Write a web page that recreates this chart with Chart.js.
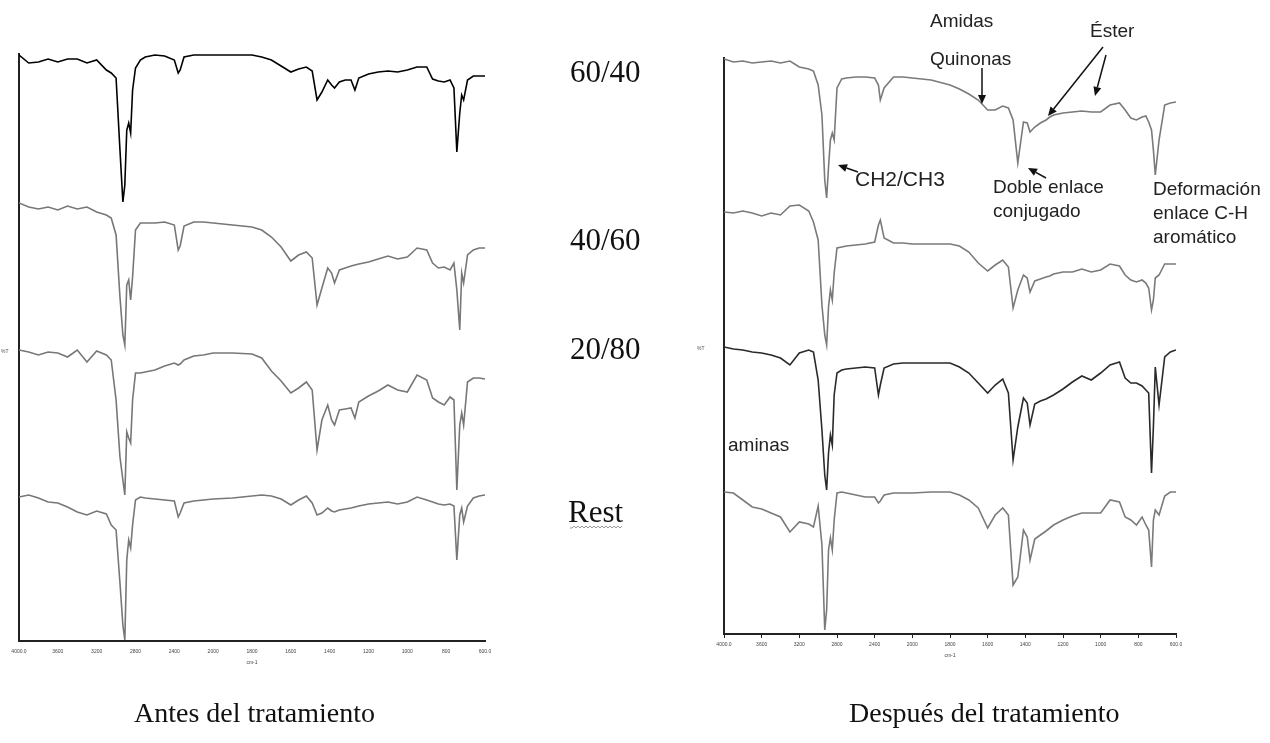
<!DOCTYPE html>
<html>
<head>
<meta charset="utf-8">
<script src="https://cdn.jsdelivr.net/npm/chart.js@4.4.0/dist/chart.umd.min.js"></script>
<style>
  body { margin: 0; background: #fff; width: 1270px; height: 743px; overflow: hidden; position: relative; }
  canvas { position: absolute; top: 0; }
  #antes { left: 0; }
  #despues { left: 690px; }
  #notes { position: absolute; left: 0; top: 0; }
</style>
</head>
<body>
<canvas id="antes" width="520" height="680"></canvas>
<canvas id="despues" width="580" height="680"></canvas>
<svg id="notes" width="1270" height="743">
  <g font-family="Liberation Serif" fill="#111">
    <text x="570" y="82" font-size="31">60/40</text>
    <text x="570" y="250" font-size="31">40/60</text>
    <text x="570" y="359" font-size="31">20/80</text>
    <text x="568" y="522" font-size="31">Rest</text>
    <text x="134" y="722" font-size="28">Antes del tratamiento</text>
    <text x="849" y="722" font-size="28">Después del tratamiento</text>
  </g>
  <g font-family="Liberation Sans" fill="#222" font-size="19">
    <text x="930" y="27">Amidas</text>
    <text x="930" y="65">Quinonas</text>
    <text x="1090" y="37">Éster</text>
    <text x="855" y="186" font-size="21">CH2/CH3</text>
    <text x="993" y="193">Doble enlace</text>
    <text x="993" y="217">conjugado</text>
    <text x="1153" y="195">Deformación</text>
    <text x="1153" y="219">enlace C-H</text>
    <text x="1153" y="243">aromático</text>
    <text x="728" y="451">aminas</text>
  </g>
  <g font-family="Liberation Sans" fill="#555" font-size="5">
    <text x="1" y="353">%T</text>
    <text x="697" y="350">%T</text>
  </g>
  <path id="wavy" fill="none" stroke="#999" stroke-width="1"></path>
  <g id="arrows" stroke="#111" fill="#111" stroke-width="1.5"></g>
</svg>
<script>
// IR spectra, transmittance stacked (arbitrary units)
const wavenumbers = [4000, 3900, 3800, 3700, 3600, 3500, 3400, 3300, 3200, 3100,
  3050, 3000, 2960, 2930, 2910, 2890, 2870, 2850, 2830, 2800,
  2750, 2700, 2600, 2500, 2400, 2360, 2340, 2300, 2200, 2100,
  2000, 1900, 1800, 1750, 1700, 1650, 1600, 1560, 1520, 1490,
  1465, 1440, 1410, 1390, 1375, 1350, 1320, 1290, 1270, 1250,
  1200, 1150, 1100, 1050, 1000, 950, 900, 870, 840, 810,
  780, 760, 745, 730, 720, 710, 690, 660, 630, 600];

const tickLabels = ['4000.0', '3600', '3200', '2800', '2400', '2000', '1800', '1600', '1400', '1200', '1000', '800', '600.0'];

// Antes del tratamiento
const antes6040 = [586, 578, 579, 582, 579, 582, 582, 578, 581, 571,
  568, 563, 491, 439, 456, 511, 518, 508, 551, 573,
  581, 584, 586, 585, 581, 568, 571, 584, 586, 586,
  586, 586, 586, 584, 581, 575, 569, 572, 574, 570,
  541, 549, 561, 556, 553, 559, 561, 561, 551, 563,
  567, 569, 570, 569, 571, 574, 574, 562, 560, 559,
  561, 553, 489, 528, 546, 541, 561, 565, 565, 565];
const antes4060 = [438, 434, 432, 434, 431, 435, 432, 434, 429, 426,
  423, 406, 344, 306, 296, 356, 361, 341, 364, 411,
  418, 418, 418, 419, 416, 391, 395, 415, 419, 419,
  418, 416, 414, 411, 404, 394, 380, 386, 389, 383,
  336, 353, 373, 368, 358, 371, 373, 375, 376, 377,
  379, 382, 385, 382, 384, 393, 391, 378, 373, 374,
  371, 378, 351, 311, 368, 358, 386, 391, 393, 393];
const antes2080 = [291, 289, 286, 289, 288, 284, 291, 279, 290, 286,
  281, 241, 184, 161, 146, 209, 203, 198, 241, 268,
  268, 269, 271, 275, 278, 276, 277, 281, 285, 286,
  288, 288, 287, 283, 270, 260, 248, 253, 259, 251,
  191, 221, 236, 221, 216, 231, 232, 233, 223, 239,
  245, 250, 256, 251, 249, 266, 261, 243, 239, 236,
  244, 241, 151, 216, 228, 216, 259, 263, 263, 262];
const antesRest = [144, 146, 143, 139, 138, 134, 129, 126, 130, 127,
  116, 111, 58, 16, 1, 81, 101, 93, 116, 141,
  144, 143, 142, 141, 140, 124, 128, 138, 140, 141,
  142, 143, 145, 146, 145, 142, 136, 141, 145, 138,
  126, 128, 133, 130, 129, 131, 132, 133, 134, 135,
  137, 138, 139, 137, 139, 144, 141, 139, 137, 136,
  137, 135, 81, 126, 133, 119, 135, 143, 145, 146];

// Después del tratamiento
const despues6040 = [575, 572, 573, 571, 572, 573, 571, 573, 567, 565,
  563, 549, 519, 454, 436, 467, 494, 501, 494, 546,
  555, 556, 557, 557, 556, 549, 534, 546, 557, 557,
  556, 554, 549, 545, 540, 534, 524, 524, 528, 526,
  514, 471, 512, 511, 502, 507, 511, 514, 517, 519,
  521, 522, 523, 522, 522, 529, 531, 524, 516, 514,
  517, 518, 512, 504, 484, 459, 494, 529, 531, 532];
const despues4060 = [422, 421, 423, 421, 418, 421, 419, 428, 429, 423,
  412, 394, 329, 299, 289, 327, 344, 334, 361, 386,
  387, 388, 389, 390, 392, 409, 414, 396, 391, 391,
  390, 390, 390, 388, 382, 371, 363, 369, 374, 367,
  326, 344, 359, 356, 342, 353, 355, 357, 358, 360,
  362, 362, 365, 362, 364, 370, 368, 359, 354, 352,
  354, 351, 346, 324, 334, 356, 359, 370, 370, 370];
const despues2080 = [287, 285, 284, 282, 281, 279, 276, 269, 281, 284,
  282, 254, 204, 159, 144, 181, 199, 189, 239, 261,
  264, 265, 266, 267, 266, 239, 249, 266, 270, 271,
  271, 271, 271, 267, 261, 251, 241, 249, 255, 241,
  174, 207, 236, 231, 209, 230, 233, 235, 237, 239,
  245, 252, 258, 254, 261, 269, 272, 256, 251, 251,
  248, 244, 241, 161, 207, 267, 229, 277, 282, 284];
const despuesRest = [142, 141, 134, 127, 125, 121, 117, 102, 112, 110,
  107, 128, 89, 4, 24, 84, 96, 84, 114, 141,
  142, 141, 139, 137, 137, 131, 133, 139, 141, 141,
  141, 142, 142, 139, 134, 126, 106, 119, 126, 119,
  49, 57, 104, 97, 74, 95, 99, 103, 106, 109,
  114, 118, 121, 121, 121, 134, 132, 117, 114, 109,
  117, 109, 104, 67, 114, 124, 119, 138, 142, 142];

// the instrument axis uses 400 cm-1 per division above 2000 and 200 below
function wnToAxis(wn) {
  return wn >= 2000 ? (4000 - wn) / 400 : 5 + (2000 - wn) / 200;
}

function series(vals, color) {
  return {
    data: wavenumbers.map((wn, i) => ({ x: wnToAxis(wn), y: vals[i] })),
    borderColor: color,
    borderWidth: 1.6,
    pointRadius: 0,
    tension: 0,
    fill: false
  };
}

function makeChart(id, datasets, yMax, pad, tickMarks) {
  return new Chart(document.getElementById(id).getContext('2d'), {
    type: 'line',
    data: { datasets: datasets },
    options: {
      responsive: false,
      animation: false,
      devicePixelRatio: 1,
      layout: { padding: pad },
      plugins: { legend: { display: false }, tooltip: { enabled: false } },
      scales: {
        x: {
          type: 'linear', min: 0, max: 12,
          afterFit: a => { a.height = 30; },
          afterBuildTicks: a => { a.ticks = tickLabels.map((_, i) => ({ value: i })); },
          ticks: {
            autoSkip: false, maxRotation: 0, padding: tickMarks ? 4 : 8,
            color: '#444', font: { family: 'Liberation Sans', size: 5 },
            callback: v => tickLabels[v]
          },
          grid: { display: tickMarks, drawOnChartArea: false, drawTicks: tickMarks, tickLength: 4, color: '#222' },
          border: { display: true, color: '#222', width: 2 },
          title: {
            display: true, text: 'cm-1', color: '#444',
            font: { family: 'Liberation Sans', size: 5 },
            padding: { top: 0, bottom: 5 }
          }
        },
        y: {
          min: 0, max: yMax,
          afterFit: a => { a.width = 0; },
          ticks: { display: false },
          grid: { display: false },
          border: { display: true, color: '#222', width: 2 }
        }
      }
    }
  });
}

makeChart('antes', [
  series(antes6040, '#000'),
  series(antes4060, '#777'),
  series(antes2080, '#777'),
  series(antesRest, '#777')
], 587, { left: 19, right: 35, top: 54, bottom: 9 }, false);

makeChart('despues', [
  series(despues6040, '#7a7a7a'),
  series(despues4060, '#7a7a7a'),
  series(despues2080, '#2a2a2a'),
  series(despuesRest, '#7a7a7a')
], 576, { left: 34, right: 94, top: 58, bottom: 16 }, true);

// annotation arrows (tail -> tip)
const arrows = [
  [982, 68, 982, 104],
  [1103, 47, 1048, 116],
  [1106, 55, 1095, 96],
  [858, 172, 838, 165],
  [1046, 178, 1028, 168]
];
const ns = 'http://www.w3.org/2000/svg';
const g = document.getElementById('arrows');
arrows.forEach(([x1, y1, x2, y2]) => {
  const ang = Math.atan2(y2 - y1, x2 - x1);
  const len = 9, hw = 4;
  const bx = x2 - len * Math.cos(ang), by = y2 - len * Math.sin(ang);
  const line = document.createElementNS(ns, 'line');
  line.setAttribute('x1', x1); line.setAttribute('y1', y1);
  line.setAttribute('x2', bx); line.setAttribute('y2', by);
  g.appendChild(line);
  const head = document.createElementNS(ns, 'polygon');
  const px = -Math.sin(ang) * hw, py = Math.cos(ang) * hw;
  head.setAttribute('points', `${x2},${y2} ${bx + px},${by + py} ${bx - px},${by - py}`);
  head.setAttribute('stroke', 'none');
  g.appendChild(head);
});

// spell-check squiggle under "Rest"
let d = 'M570 528';
for (let x = 572; x <= 622; x += 2) d += ` L${x} ${x % 4 ? 526 : 528}`;
document.getElementById('wavy').setAttribute('d', d);
</script>
</body>
</html>
